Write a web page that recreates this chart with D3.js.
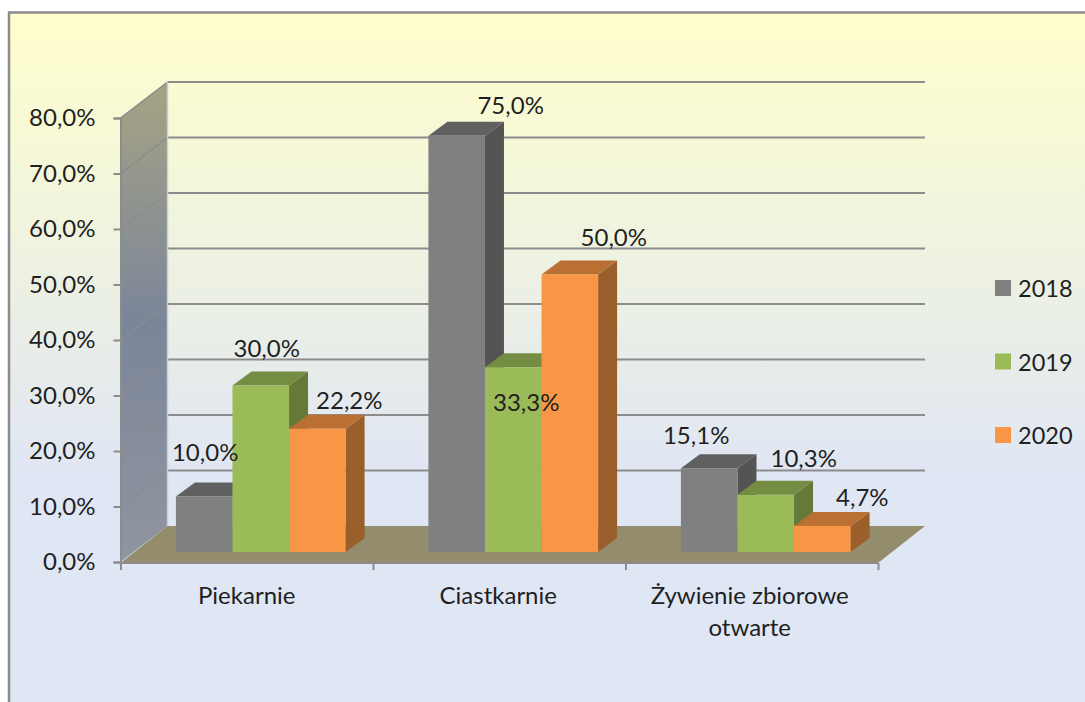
<!DOCTYPE html>
<html>
<head>
<meta charset="utf-8">
<script src="https://cdnjs.cloudflare.com/ajax/libs/d3/7.8.5/d3.min.js"></script>
<style>
html,body{margin:0;padding:0;background:#fff;}
svg{display:block;}
text{font-family:Lato,"Open Sans",sans-serif;fill:#1f1f1f;}
</style>
</head>
<body>
<div id="chart"></div>
<script>
var categories = ['Piekarnie', 'Ciastkarnie', 'Żywienie zbiorowe otwarte'];
var series = ['2018', '2019', '2020'];
var values2018 = [10.0, 75.0, 15.1];
var values2019 = [30.0, 33.3, 10.3];
var values2020 = [22.2, 50.0, 4.7];
var yTicks = [0, 10, 20, 30, 40, 50, 60, 70, 80];

// hand placed data labels, [dx, dy] from the middle of the bar top
var labelShift2018 = [[1, -45], [54, -31], [-13, -34]];
var labelShift2019 = [[6, -38], [13, 34], [38, -37]];
var labelShift2020 = [[32, -29], [44, -38], [40, -29]];

var colors = {
    '2018': {front: '#808080', top: '#606060', side: '#545454'},
    '2019': {front: '#9bbb59', top: '#758c43', side: '#657a39'},
    '2020': {front: '#f99546', top: '#ba7033', side: '#9a5f2b'}
};

var W = 1085, H = 702;
var fs = 24;
var depth = {x: 47, y: -36};      // wall depth
var barOff = {x: 14, y: -10};     // where the bars stand on the floor
var barDepth = {x: 19, y: -14};

var rows = [values2018, values2019, values2020];
var shifts = [labelShift2018, labelShift2019, labelShift2020];
var bars = [];
series.forEach(function(s, si){
    categories.forEach(function(c, ci){
        bars.push({series: s, cat: c, value: rows[si][ci], shift: shifts[si][ci]});
    });
});

var svg = d3.select('#chart').append('svg').attr('width', W).attr('height', H);
var defs = svg.append('defs');

var bg = defs.append('linearGradient').attr('id', 'bg')
    .attr('gradientUnits', 'userSpaceOnUse')
    .attr('x1', 0).attr('x2', 0).attr('y1', 14).attr('y2', 480);
bg.append('stop').attr('offset', 0).attr('stop-color', '#ffffcc');
bg.append('stop').attr('offset', 1).attr('stop-color', '#dfe6f4');

var wall = defs.append('linearGradient').attr('id', 'wall')
    .attr('gradientUnits', 'userSpaceOnUse')
    .attr('x1', 0).attr('x2', 0).attr('y1', 85).attr('y2', 560);
wall.append('stop').attr('offset', 0).attr('stop-color', '#a5a384');
wall.append('stop').attr('offset', 0.5).attr('stop-color', '#7b859a');
wall.append('stop').attr('offset', 1).attr('stop-color', '#90969f');

// panel
svg.append('rect').attr('x', 9).attr('y', 12.5).attr('width', W + 10).attr('height', H)
    .attr('fill', 'url(#bg)').attr('stroke', '#8c8c8c').attr('stroke-width', 2.5);

var x = d3.scaleBand().domain(categories).range([120.5, 878]);
var xInner = d3.scaleBand().domain(series)
    .range([x.bandwidth() * 0.164, x.bandwidth() * 0.836]);
var y = d3.scaleLinear().domain([0, 80]).range([562, 118]);

var x0 = x.range()[0], x1 = x.range()[1];

function poly(pts){
    return 'M' + pts.map(function(p){ return p[0] + ',' + p[1]; }).join('L') + 'Z';
}

// left wall and floor
svg.append('path')
    .attr('d', poly([[x0, y(80)], [x0 + depth.x, y(80) + depth.y], [x0 + depth.x, y(0) + depth.y], [x0, y(0)]]))
    .attr('fill', 'url(#wall)');
svg.append('path')
    .attr('d', poly([[x0, y(0) + 1], [x1, y(0) + 1], [x1 + depth.x, y(0) + depth.y], [x0 + depth.x, y(0) + depth.y]]))
    .attr('fill', '#938c6d');

// gridlines on the back wall and their run across the side wall
var grid = svg.append('g').attr('fill', 'none').attr('stroke', '#8c8c8c');
grid.selectAll('line.back').data(yTicks.slice(1)).enter().append('line')
    .attr('class', 'back')
    .attr('x1', x0 + depth.x).attr('x2', x1 + depth.x)
    .attr('y1', function(d){ return y(d) + depth.y; })
    .attr('y2', function(d){ return y(d) + depth.y; })
    .attr('stroke-width', 2);
grid.selectAll('line.side').data(yTicks.slice(1)).enter().append('line')
    .attr('class', 'side')
    .attr('x1', x0).attr('x2', x0 + depth.x)
    .attr('y1', function(d){ return y(d); })
    .attr('y2', function(d){ return y(d) + depth.y; })
    .attr('stroke-width', 1.5);
grid.append('line')
    .attr('x1', x0 + depth.x).attr('x2', x0 + depth.x)
    .attr('y1', y(80) + depth.y).attr('y2', y(0) + depth.y)
    .attr('stroke', '#c9ced6').attr('stroke-width', 1.5);

// y axis
var yAxis = d3.axisLeft(y).tickValues(yTicks).tickSize(7).tickPadding(18)
    .tickFormat(function(d){ return d.toFixed(1).replace('.', ',') + '%'; });
var gy = svg.append('g').attr('transform', 'translate(' + x0 + ',0)').call(yAxis);
gy.selectAll('path,line').attr('stroke', '#8c8c8c').attr('stroke-width', 2);
gy.selectAll('text').style('font-size', fs + 'px').style('font-family', 'Lato');

// x axis, ticks sit on the band edges
var xTicks = categories.map(function(c){ return x(c); }).concat([x1]);
var xEdge = d3.scaleLinear().domain([x0, x1]).range([x0, x1]);
var xAxis = d3.axisBottom(xEdge).tickValues(xTicks).tickSize(7).tickFormat('');
var gx = svg.append('g').attr('transform', 'translate(0,' + (y(0) + 1) + ')').call(xAxis);
gx.selectAll('path,line').attr('stroke', '#8c8c8c').attr('stroke-width', 2);
gx.select('path').attr('d', 'M' + x0 + ',0H' + x1);

var catLabels = svg.append('g').selectAll('text').data(categories).enter().append('text')
    .attr('text-anchor', 'middle')
    .attr('x', function(d, i){ return x(d) + x.bandwidth() / 2 - i; })
    .attr('y', 604)
    .style('font-size', fs + 'px');
catLabels.each(function(d){
    var words = d.split(' ');
    var lines = words.length > 2 ? [words.slice(0, 2).join(' '), words.slice(2).join(' ')] : [d];
    var t = d3.select(this);
    lines.forEach(function(l, i){
        t.append('tspan').attr('x', t.attr('x')).attr('dy', i ? 32 : 0).text(l);
    });
});

// bars, back to front
function barLeft(d){ return x(d.cat) + xInner(d.series) + barOff.x; }
function barTop(d){ return y(d.value) + barOff.y; }
var barBase = y(0) + barOff.y;
var bw = xInner.bandwidth();

var order = bars.slice().sort(function(a, b){
    return categories.indexOf(a.cat) - categories.indexOf(b.cat) || series.indexOf(a.series) - series.indexOf(b.series);
});
var bar = svg.append('g').selectAll('g').data(order).enter().append('g');
bar.append('path')
    .attr('fill', function(d){ return colors[d.series].side; })
    .attr('d', function(d){
        var l = barLeft(d), t = barTop(d), r = l + bw;
        return poly([[r, t], [r + barDepth.x, t + barDepth.y], [r + barDepth.x, barBase + barDepth.y], [r, barBase]]);
    });
bar.append('path')
    .attr('fill', function(d){ return colors[d.series].top; })
    .attr('d', function(d){
        var l = barLeft(d), t = barTop(d), r = l + bw;
        return poly([[l, t], [r, t], [r + barDepth.x, t + barDepth.y], [l + barDepth.x, t + barDepth.y]]);
    });
bar.append('rect')
    .attr('fill', function(d){ return colors[d.series].front; })
    .attr('x', barLeft).attr('y', barTop).attr('width', bw)
    .attr('height', function(d){ return barBase - barTop(d); });

// data labels go over everything
svg.append('g').selectAll('text').data(order).enter().append('text')
    .attr('text-anchor', 'middle').attr('dominant-baseline', 'central')
    .attr('x', function(d){ return barLeft(d) + bw / 2 + d.shift[0]; })
    .attr('y', function(d){ return barTop(d) + d.shift[1]; })
    .style('font-size', fs + 'px')
    .text(function(d){ return d.value.toFixed(1).replace('.', ',') + '%'; });

// legend
var legendY = d3.scalePoint().domain(series).range([288, 435]);
var lg = svg.append('g').selectAll('g').data(series).enter().append('g')
    .attr('transform', function(d){ return 'translate(995,' + legendY(d) + ')'; });
lg.append('rect').attr('x', 0).attr('y', -8).attr('width', 16).attr('height', 16)
    .attr('fill', function(d){ return colors[d].front; });
lg.append('text').attr('x', 23).attr('dominant-baseline', 'central')
    .style('font-size', (fs - 0.5) + 'px').text(function(d){ return d; });
</script>
</body>
</html>
